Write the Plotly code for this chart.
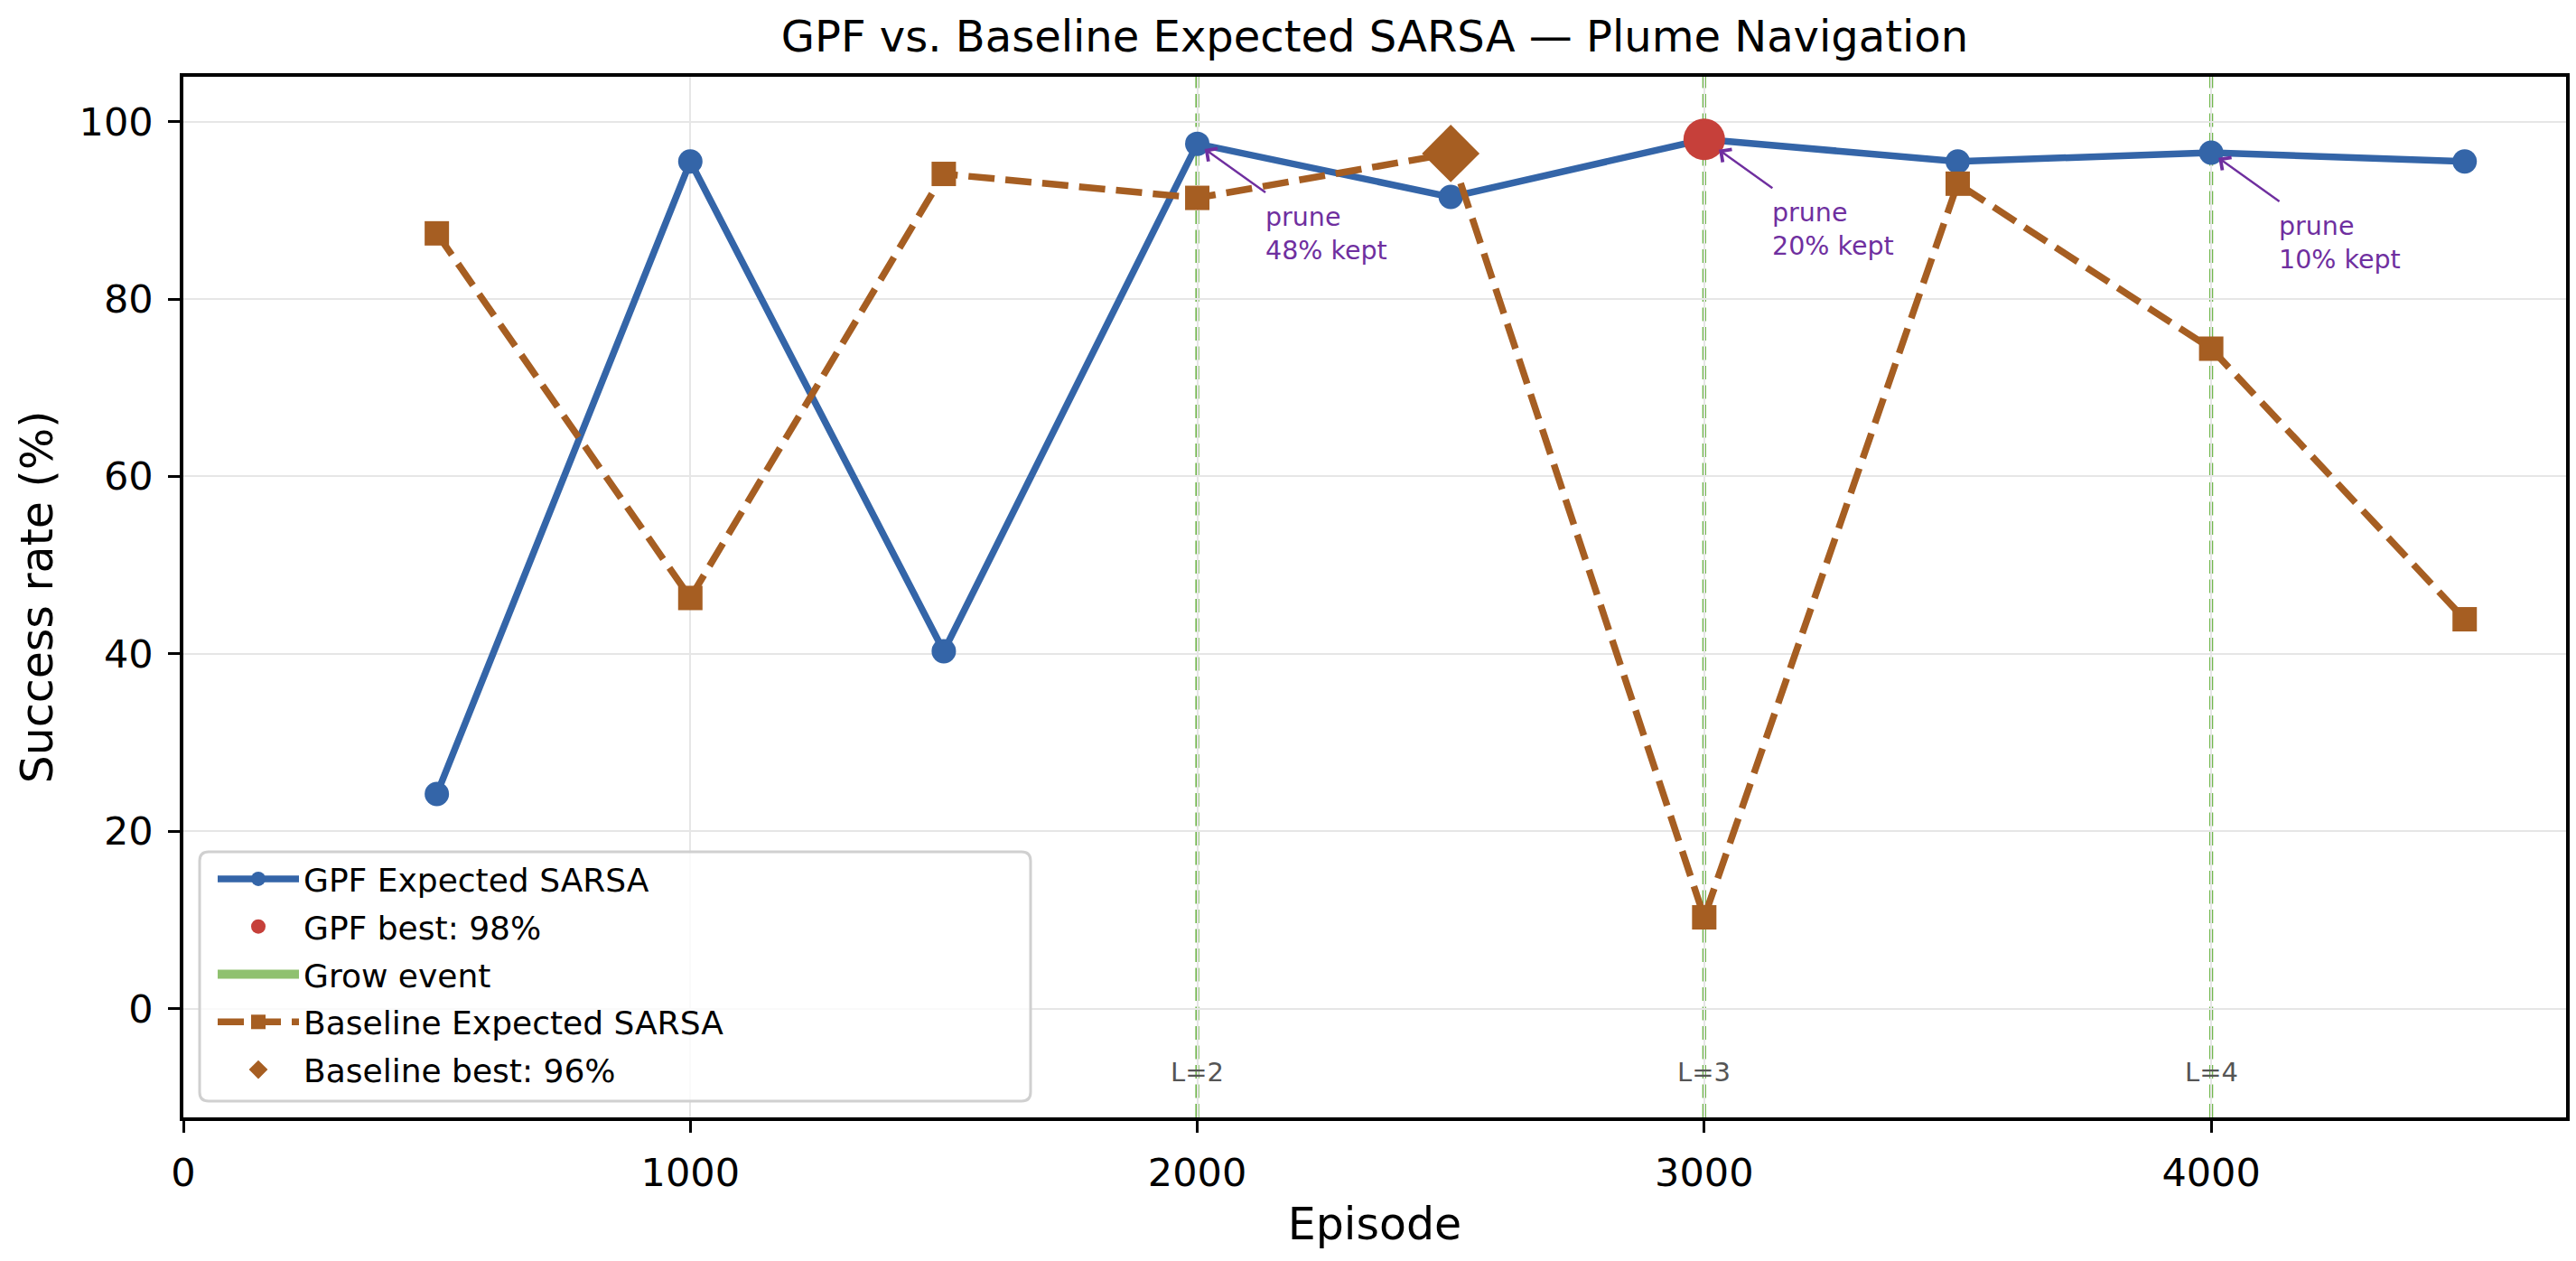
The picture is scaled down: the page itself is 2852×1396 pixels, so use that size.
import plotly.graph_objects as go

# ---------------- data ----------------
episodes = [500, 1000, 1500, 2000, 2500, 3000, 3500, 4000, 4500]
gpf_success = [24.2, 95.5, 40.3, 97.5, 91.5, 98.0, 95.5, 96.5, 95.5]
baseline_success = [87.4, 46.3, 94.1, 91.4, 96.4, 10.3, 93.0, 74.4, 43.9]

gpf_best_episode = [3000]
gpf_best_value = [98.0]
baseline_best_episode = [2500]
baseline_best_value = [96.4]

grow_episodes = [2000, 3000, 4000]
grow_labels = ["L=2", "L=3", "L=4"]
grow_label_y = -7.2

prune_episodes = [2000, 3000, 4000]
prune_texts = ["prune<br>48% kept", "prune<br>20% kept", "prune<br>10% kept"]

x_ticks = [0, 1000, 2000, 3000, 4000]
y_ticks = [0, 20, 40, 60, 80, 100]

title_text = "GPF vs. Baseline Expected SARSA \u2014 Plume Navigation"

# ---------------- style ----------------
FONT = "DejaVu Sans"
BLUE = "#3465a8"
RED = "#c6403a"
ORANGE = "#a65e22"
GREEN_LINE = "#72b74e"
GREEN_PATCH = "#8fc16f"
PURPLE = "#6f2f9f"
GRID = "#e6e6e6"

W, H = 2852, 1396
ML, MR, MT, MB = 203, 11, 85, 159

fig = go.Figure()

fig.add_trace(go.Scatter(
    x=episodes, y=gpf_success, mode="lines+markers", name="GPF Expected SARSA",
    line=dict(color=BLUE, width=7.5), marker=dict(color=BLUE, size=27, symbol="circle"),
    legendrank=1, legendgroup="a"))
fig.add_trace(go.Scatter(
    x=gpf_best_episode, y=gpf_best_value, mode="markers",
    name="GPF best: %d%%" % round(gpf_best_value[0]),
    marker=dict(color=RED, size=46, symbol="circle"), legendrank=2, legendgroup="b"))
fig.add_trace(go.Scatter(
    x=[None], y=[None], mode="lines", name="Grow event",
    line=dict(color=GREEN_PATCH, width=10), legendrank=3, legendgroup="c"))
fig.add_trace(go.Scatter(
    x=episodes, y=baseline_success, mode="lines+markers", name="Baseline Expected SARSA",
    line=dict(color=ORANGE, width=7.5, dash="29px,12px"),
    marker=dict(color=ORANGE, size=27, symbol="square"), legendrank=4, legendgroup="d"))
fig.add_trace(go.Scatter(
    x=baseline_best_episode, y=baseline_best_value, mode="markers",
    name="Baseline best: %d%%" % int(baseline_best_value[0]),
    marker=dict(color=ORANGE, size=49, symbol="diamond"), legendrank=5, legendgroup="e"))

shapes = []
for g in grow_episodes:
    shapes.append(dict(type="line", xref="x", yref="paper", x0=g, x1=g, y0=0, y1=1,
                       line=dict(color=GREEN_LINE, width=4.3, dash="15px,6.5px"), layer="below"))

# legend box (rounded)
pw, ph = W - ML - MR, H - MT - MB
lx0 = (221 - ML) / pw
lx1 = (1141 - ML) / pw
ly0 = (H - MB - 1219) / ph
ly1 = (H - MB - 943) / ph
rx, ry = 10 / pw, 10 / ph
path = (f"M{lx0+rx},{ly0} L{lx1-rx},{ly0} Q{lx1},{ly0} {lx1},{ly0+ry} "
        f"L{lx1},{ly1-ry} Q{lx1},{ly1} {lx1-rx},{ly1} L{lx0+rx},{ly1} "
        f"Q{lx0},{ly1} {lx0},{ly1-ry} L{lx0},{ly0+ry} Q{lx0},{ly0} {lx0+rx},{ly0} Z")
shapes.append(dict(type="path", xref="paper", yref="paper", path=path,
                   fillcolor="rgba(255,255,255,0.8)", line=dict(color="#d0d0d0", width=3),
                   layer="above"))

annotations = []
for g, lab in zip(grow_episodes, grow_labels):
    annotations.append(dict(x=g, y=grow_label_y, xref="x", yref="y", text=lab, showarrow=False,
                            font=dict(family=FONT, size=29, color="#555555"),
                            xanchor="center", yanchor="middle"))

for e, t in zip(prune_episodes, prune_texts):
    yv = gpf_success[episodes.index(e)]
    is_best = e in gpf_best_episode
    annotations.append(dict(x=e, y=yv, xref="x", yref="y", text="", showarrow=True,
                            ax=77, ay=55, arrowcolor=PURPLE, arrowwidth=2.4, arrowhead=4,
                            arrowsize=1.4, standoff=20 if is_best else 10))
    annotations.append(dict(x=e, y=yv, xref="x", yref="y", text=t, showarrow=False,
                            xanchor="left", yanchor="top", align="left", xshift=73, yshift=-63,
                            font=dict(family=FONT, size=28.5, color=PURPLE)))

axis_common = dict(showline=True, linecolor="black", linewidth=3.5, mirror=True,
                   ticks="outside", ticklen=13, tickwidth=3, tickcolor="black",
                   showgrid=True, gridcolor=GRID, gridwidth=2.2, zeroline=False,
                   tickfont=dict(family=FONT, size=43, color="black"))

fig.update_layout(
    width=W, height=H,
    margin=dict(l=ML, r=MR, t=MT, b=MB, autoexpand=False),
    paper_bgcolor="white", plot_bgcolor="white",
    title=dict(text=title_text, x=(ML + pw / 2) / W, xanchor="center",
               y=1 - 40 / H, yanchor="middle",
               font=dict(family=FONT, size=48, color="black")),
    xaxis=dict(range=[0, 4700], tickvals=x_ticks, ticktext=[str(v) for v in x_ticks],
               title=dict(text="Episode", font=dict(family=FONT, size=49, color="black"), standoff=16),
               ticklabelstandoff=8, **axis_common),
    yaxis=dict(range=[-12.25, 105.05], tickvals=y_ticks, ticktext=[str(v) for v in y_ticks],
               title=dict(text="Success rate (%)", font=dict(family=FONT, size=49, color="black"), standoff=14),
               ticklabelstandoff=8, **axis_common),
    legend=dict(x=lx0 + 15 / pw, y=ly1, xanchor="left", yanchor="top", bgcolor="rgba(0,0,0,0)",
                borderwidth=0, font=dict(family=FONT, size=36, color="black"),
                itemwidth=90, tracegroupgap=3, traceorder="grouped"),
    shapes=shapes, annotations=annotations,
    font=dict(family=FONT),
)

fig.write_html("out.html")
